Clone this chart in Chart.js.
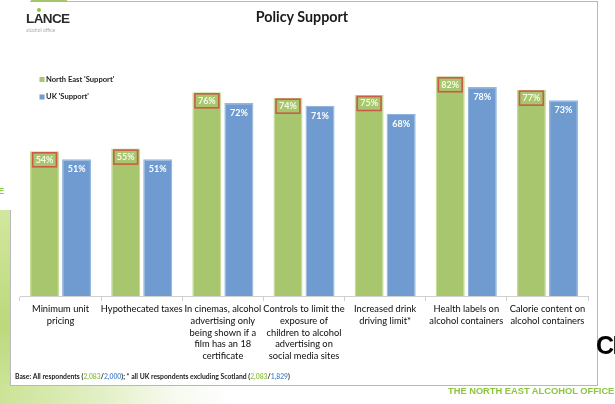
<!DOCTYPE html>
<html><head><meta charset="utf-8">
<script src="https://cdn.jsdelivr.net/npm/chart.js@4.4.1/dist/chart.umd.min.js"></script>
<style>
html,body{margin:0;padding:0;background:#fff;width:615px;height:404px;overflow:hidden;position:relative;font-family:'Lato',sans-serif}
#leftstrip{position:absolute;left:0;top:205px;width:12px;height:199px;background:linear-gradient(180deg,#d3e8a0,#bcd97c 60%,#cfe6a0)}
#bottomband{position:absolute;left:0;top:385px;width:230px;height:19px;background:linear-gradient(90deg,#cbe396,#e3f0c6 45%,#f6faee 75%,#fff)}
#box{position:absolute;left:10px;top:1px;width:586px;height:383px;border:1.5px solid #b8b8b8;background:#fff}
#accent{position:absolute;left:31px;top:0px;width:36px;height:2px;background:#a6c66c}
#cv{position:absolute;left:0;top:0}
#cover{position:absolute;left:0;top:0;width:30px;height:210px;background:#fff}
#logo{position:absolute;left:26px;top:11px;font-family:'Liberation Sans',Arial,sans-serif;font-weight:bold;font-size:13.5px;color:#2a2a2a;letter-spacing:-0.6px}
#logodot{position:absolute;left:37px;top:8px;width:4px;height:4px;border-radius:2px;background:#8cc63f}
#logosub{position:absolute;left:26px;top:27px;font-family:'Lato',sans-serif;font-size:5px;color:#aaa}
#edge{position:absolute;left:-2px;top:186px;font-family:'Liberation Sans',sans-serif;font-weight:bold;font-size:9px;color:#8cc63f}
#title{position:absolute;left:0;width:604px;top:8px;text-align:center;font-family:'Lato',sans-serif;font-weight:bold;font-size:14.3px;color:#1a1a1a}
#foot{position:absolute;left:15px;top:372px;font-family:'Lato',sans-serif;font-weight:bold;font-size:6.8px;color:#222;white-space:nowrap}
.g{color:#9bc45a}.b{color:#5b8fd0}
#ci{position:absolute;left:596px;top:331px;font-family:'Liberation Sans',Arial,sans-serif;font-weight:bold;font-size:25px;color:#000;white-space:nowrap;letter-spacing:-1.5px}
#neao{position:absolute;left:448px;top:386px;font-family:'Liberation Sans',Arial,sans-serif;font-weight:bold;font-size:9.3px;color:#8cc63f;white-space:nowrap}
</style></head>
<body>
<div id="leftstrip"></div>
<div id="bottomband"></div>
<div id="box"></div>
<div id="accent"></div>
<canvas id="cv" width="615" height="404"></canvas>
<div id="cover"></div>
<div id="edge">E</div>
<div id="logo">LANCE</div>
<div id="logodot"></div>
<div id="logosub">alcohol office</div>
<div id="title">Policy Support</div>
<div id="foot">Base: All respondents (<span class="g">2,083</span>/<span class="b">2,000</span>); * all UK respondents excluding Scotland (<span class="g">2,083</span>/<span class="b">1,829</span>)</div>
<div id="ci">CI</div>
<div id="neao">THE NORTH EAST ALCOHOL OFFICE</div>
<script>
const categories = [
  ["Minimum unit","pricing"],
  ["Hypothecated taxes"],
  ["In cinemas, alcohol","advertising only","being shown if a","film has an 18","certificate"],
  ["Controls to limit the","exposure of","children to alcohol","advertising on","social media sites"],
  ["Increased drink","driving limit*"],
  ["Health labels on","alcohol containers"],
  ["Calorie content on","alcohol containers"]
];
const seriesNames = ["North East 'Support'", "UK 'Support'"];
const northEastSupport = [54, 55, 76, 74, 75, 82, 77];
const ukSupport = [51, 51, 72, 71, 68, 78, 73];

const FONT = "Lato, sans-serif";

const barLabels = {
  id: 'barLabels',
  afterDatasetsDraw(chart) {
    const ctx = chart.ctx;
    chart.data.datasets.forEach((ds, di) => {
      const meta = chart.getDatasetMeta(di);
      meta.data.forEach((bar, i) => {
        const txt = ds.data[i] + '%';
        ctx.save();
        ctx.font = 'bold 9px ' + FONT;
        ctx.fillStyle = di === 0 ? '#f8fbe8' : '#ffffff';
        ctx.textAlign = 'center';
        ctx.textBaseline = 'middle';
        const y = bar.y + (di === 0 ? 8.5 : 10);
        ctx.fillText(txt, bar.x, y);
        if (di === 0) {
          const w = ctx.measureText(txt).width + 6;
          ctx.strokeStyle = '#cc5a48';
          ctx.lineWidth = 1.6;
          ctx.strokeRect(bar.x - w / 2, bar.y + 1.5, w, 14);
        }
        ctx.restore();
      });
    });
  }
};

const sideLegend = {
  id: 'sideLegend',
  afterDraw(chart) {
    const ctx = chart.ctx;
    const x0 = chart.chartArea.left + 19.5;
    const ys = [79.5, 97];
    chart.data.datasets.forEach((ds, di) => {
      ctx.save();
      ctx.fillStyle = ds.backgroundColor;
      ctx.fillRect(x0, ys[di] - 2.5, 5, 5);
      ctx.font = 'bold 7.6px ' + FONT;
      ctx.fillStyle = '#222';
      ctx.textBaseline = 'middle';
      ctx.fillText(ds.label, x0 + 6.5, ys[di]);
      ctx.restore();
    });
  }
};

new Chart(document.getElementById('cv'), {
  type: 'bar',
  data: {
    labels: categories,
    datasets: [
      { label: seriesNames[0], data: northEastSupport, backgroundColor: '#a7c66d', borderColor: '#c3dc95', borderWidth: 1.2,
        categoryPercentage: 0.79, barPercentage: 0.906 },
      { label: seriesNames[1], data: ukSupport, backgroundColor: '#6f9bd0', borderColor: '#94b6de', borderWidth: 1.2,
        categoryPercentage: 0.79, barPercentage: 0.906 }
    ]
  },
  options: {
    responsive: false,
    animation: false,
    events: [],
    layout: { padding: { left: 20, right: 27, top: 28, bottom: 24 } },
    plugins: { legend: { display: false }, tooltip: { enabled: false }, title: { display: false } },
    scales: {
      x: {
        grid: { offset: true, drawOnChartArea: false, tickLength: 5, color: '#cfcfcf' },
        border: { color: '#cfcfcf', width: 1 },
        ticks: { color: '#0a0a0a', autoSkip: false, maxRotation: 0, padding: 2.5,
                 font: { family: FONT, size: 9.3, lineHeight: 1.25 } },
        afterFit(scale) { scale.height = 84; }
      },
      y: { display: false, min: 0, max: 100 }
    }
  },
  plugins: [barLabels, sideLegend]
});
</script>
</body></html>
